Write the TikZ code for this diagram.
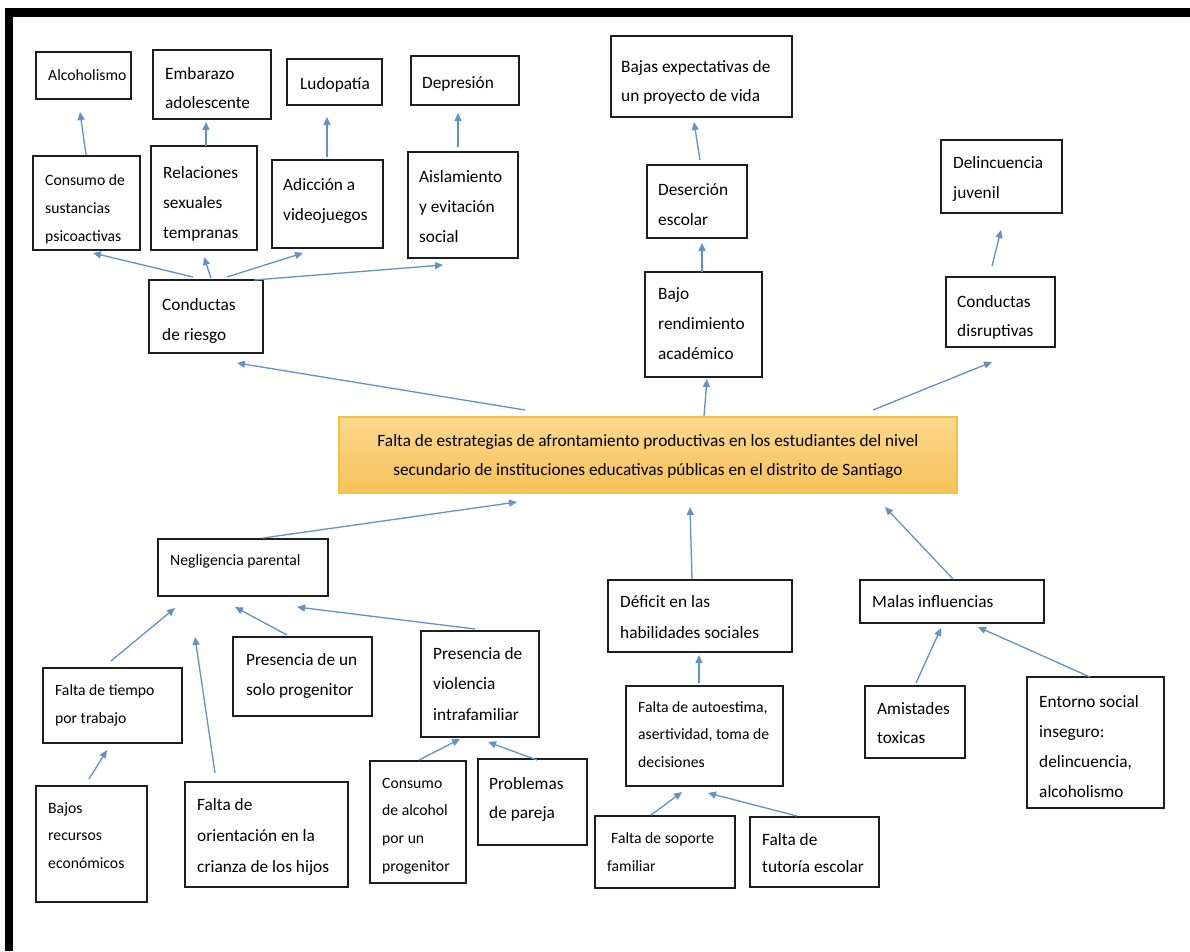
\documentclass[tikz,border=0pt]{standalone}
\usepackage{fontspec}
\setmainfont{Carlito}
\usetikzlibrary{arrows.meta,calc}
\definecolor{arrowblue}{RGB}{98,146,200}
\definecolor{boxline}{RGB}{30,30,30}
\definecolor{ctop}{RGB}{252,216,140}
\definecolor{cbot}{RGB}{247,193,90}
\definecolor{cline}{RGB}{242,190,76}
\newcommand{\mybox}[5]{\node[bx, minimum width={#4-#2}, minimum height={#5-#3}] (#1) at ({(#2+#4)/2},{(#3+#5)/2}) {};}
\newcommand{\mytxt}[6]{\node[anchor=base west, inner sep=0pt] (#1) at (#2,#3) {\fontsize{#4}{#5}\selectfont\parbox[t]{300pt}{\raggedright #6}};}
\tikzset{
  bx/.style={draw=boxline, line width=1.4pt, fill=white, inner sep=0pt, outer sep=0pt},
  arr/.style={draw=arrowblue, line width=1.3pt, -{Triangle[length=8pt,width=7pt]}},
}
\begin{document}
\begin{tikzpicture}[x=1pt,y=-1pt]
\useasboundingbox (0,0) rectangle (1190,951);
\fill[white] (0,0) rectangle (1190,951);
% frame
\fill[black] (5,8) rectangle (1190,17);
\fill[black] (5,8) rectangle (13,951);

% boxes
\mybox{alc}{36}{52}{131}{99}
\mybox{emb}{153}{50}{271}{119}
\mybox{ludo}{287}{59}{382}{105}
\mybox{dep}{411}{56}{519}{105}
\mybox{cons}{33}{156}{140}{250}
\mybox{rel}{151}{146}{257}{250}
\mybox{adic}{272}{160}{383}{248}
\mybox{aisl}{408}{152}{518}{258}
\mybox{riesgo}{149}{280}{263}{353}
\mybox{bajas}{611}{36}{792}{117}
\mybox{deser}{647}{165}{747}{238}
\mybox{bajo}{645}{272}{762}{377}
\mybox{delin}{941}{140}{1062}{213}
\mybox{disr}{946}{277}{1055}{347}
\node[draw=cline, line width=1.2pt, top color=ctop, bottom color=cbot, inner sep=0pt, outer sep=0pt,
      minimum width=618, minimum height=76] (center) at (648,455) {};
\mybox{negl}{158}{539}{328}{596}
\mybox{tiempo}{43}{668}{182}{743}
\mybox{recursos}{36}{786}{147}{902}
\mybox{orient}{185}{782}{348}{887}
\mybox{solo}{233}{637}{372}{716}
\mybox{viol}{421}{631}{539}{737}
\mybox{alcoh}{370}{761}{466}{883}
\mybox{pareja}{478}{759}{587}{845}
\mybox{deficit}{608}{580}{792}{652}
\mybox{autoest}{626}{686}{783}{786}
\mybox{soporte}{595}{816}{735}{888}
\mybox{tutoria}{750}{817}{879}{887}
\mybox{malas}{860}{580}{1044}{623}
\mybox{amist}{865}{686}{965}{758}
\mybox{entorno}{1027}{677}{1164}{808}

% texts
\mytxt{alc-t}{48}{80}{15.7}{27.5}{Alcoholismo}
\mytxt{emb-t}{165}{79}{17.3}{29.5}{Embarazo\\adolescente}
\mytxt{ludo-t}{300}{89}{17.3}{29.5}{Ludopatía}
\mytxt{dep-t}{422}{88}{17.3}{29.5}{Depresión}
\mytxt{cons-t}{45}{185}{15.7}{28}{Consumo de\\sustancias\\psicoactivas}
\mytxt{rel-t}{163}{178}{17.3}{30}{Relaciones\\sexuales\\tempranas}
\mytxt{adic-t}{283}{190}{17.3}{30}{Adicción a\\videojuegos}
\mytxt{aisl-t}{419}{182}{17.3}{30}{Aislamiento\\y evitación\\social}
\mytxt{riesgo-t}{162}{310}{17.3}{30}{Conductas\\de riesgo}
\mytxt{bajas-t}{621}{72}{17.3}{29.5}{Bajas expectativas de\\un proyecto de vida}
\mytxt{deser-t}{658}{195}{17.3}{30}{Deserción\\escolar}
\mytxt{bajo-t}{658}{299}{17.3}{30}{Bajo\\rendimiento\\académico}
\mytxt{delin-t}{953}{168}{17.3}{30}{Delincuencia\\juvenil}
\mytxt{disr-t}{957}{307}{17.3}{29}{Conductas\\disruptivas}
\node[anchor=base, inner sep=0pt] (center-t) at (648,446) {\fontsize{17.3}{29}\selectfont\parbox[t]{600pt}{\centering Falta de estrategias de afrontamiento productivas en los estudiantes del nivel\\secundario de instituciones educativas públicas en el distrito de Santiago}};
\mytxt{negl-t}{170}{565}{15.7}{27.5}{Negligencia parental}
\mytxt{tiempo-t}{55}{695}{15.7}{28}{Falta de tiempo\\por trabajo}
\mytxt{recursos-t}{48}{813}{15.7}{27.5}{Bajos\\recursos\\económicos}
\mytxt{orient-t}{197}{810}{17.3}{31}{Falta de\\orientación en la\\crianza de los hijos}
\mytxt{solo-t}{246}{665}{17.3}{30}{Presencia de un\\solo progenitor}
\mytxt{viol-t}{433}{659}{17.3}{30.5}{Presencia de\\violencia\\intrafamiliar}
\mytxt{alcoh-t}{382}{788}{15.7}{27.7}{Consumo\\de alcohol\\por un\\progenitor}
\mytxt{pareja-t}{489}{789}{17.3}{29}{Problemas\\de pareja}
\mytxt{deficit-t}{620}{607}{17.3}{31}{Déficit en las\\habilidades sociales}
\mytxt{autoest-t}{638}{712}{15.7}{27.5}{Falta de autoestima,\\asertividad, toma de\\decisiones}
\mytxt{soporte-t}{607}{843}{15.7}{28}{\hspace*{4pt}Falta de soporte\\familiar}
\mytxt{tutoria-t}{762}{845}{17.3}{27.5}{Falta de\\tutoría escolar}
\mytxt{malas-t}{872}{607}{17.3}{29.5}{Malas influencias}
\mytxt{amist-t}{877}{714}{17.3}{29}{Amistades\\toxicas}
\mytxt{entorno-t}{1039}{707}{17.3}{30}{Entorno social\\inseguro:\\delincuencia,\\alcoholismo}

% arrows
\draw[arr] ($(cons.north west)+(53,-1)$) -- ($(alc.south west)+(44,13)$);
\draw[arr] ($(rel.north west)+(55,0)$) -- ($(emb.south west)+(53,3)$);
\draw[arr] ($(adic.north west)+(55,-3)$) -- ($(ludo.south west)+(40,12)$);
\draw[arr] ($(aisl.north west)+(50,-5)$) -- ($(dep.south west)+(47,8)$);
\draw[arr] ($(riesgo.north west)+(44,-3)$) -- ($(cons.south west)+(60,3)$);
\draw[arr] ($(riesgo.north west)+(62,-2)$) -- ($(rel.south west)+(53,7)$);
\draw[arr] ($(riesgo.north west)+(78,-3)$) -- ($(adic.south west)+(31,5)$);
\draw[arr] ($(riesgo.north west)+(105,0)$) -- ($(aisl.south west)+(35,7)$);
\draw[arr] ($(deser.north west)+(53,-5)$) -- ($(bajas.south west)+(83,5)$);
\draw[arr] ($(bajo.north west)+(57,0)$) -- ($(deser.south west)+(55,5)$);
\draw[arr] ($(disr.north west)+(46,-11)$) -- ($(delin.south west)+(60,17)$);
\draw[arr] ($(center.north west)+(186,-7)$) -- ($(riesgo.south west)+(88,10)$);
\draw[arr] ($(center.north west)+(365,-1)$) -- ($(bajo.south west)+(62,2)$);
\draw[arr] ($(center.north west)+(534,-7)$) -- ($(disr.south west)+(46,15)$);
\draw[arr] ($(negl.north west)+(105,-1)$) -- ($(center.south west)+(178,9)$);
\draw[arr] ($(deficit.north west)+(84,-1)$) -- ($(center.south west)+(351,14)$);
\draw[arr] ($(malas.north west)+(93,-1)$) -- ($(center.south west)+(546,14)$);
\draw[arr] ($(tiempo.north west)+(68,-7)$) -- ($(negl.south west)+(17,12)$);
\draw[arr] ($(orient.north west)+(30,-9)$) -- ($(negl.south west)+(37,41)$);
\draw[arr] ($(solo.north west)+(54,-2)$) -- ($(negl.south west)+(77,11)$);
\draw[arr] ($(viol.north west)+(54,-2)$) -- ($(negl.south west)+(139,11)$);
\draw[arr] ($(recursos.north west)+(53,-7)$) -- ($(tiempo.south west)+(64,7)$);
\draw[arr] ($(alcoh.north west)+(49,-1)$) -- ($(viol.south west)+(39,2)$);
\draw[arr] ($(pareja.north west)+(59,1)$) -- ($(viol.south west)+(67,5)$);
\draw[arr] ($(autoest.north west)+(73,-3)$) -- ($(deficit.south west)+(91,3)$);
\draw[arr] ($(soporte.north west)+(56,-1)$) -- ($(autoest.south west)+(56,6)$);
\draw[arr] ($(tutoria.north west)+(47,-1)$) -- ($(autoest.south west)+(82,7)$);
\draw[arr] ($(amist.north west)+(51,-3)$) -- ($(malas.south west)+(81,5)$);
\draw[arr] ($(entorno.north west)+(63,0)$) -- ($(malas.south west)+(118,4)$);
\end{tikzpicture}
\end{document}
